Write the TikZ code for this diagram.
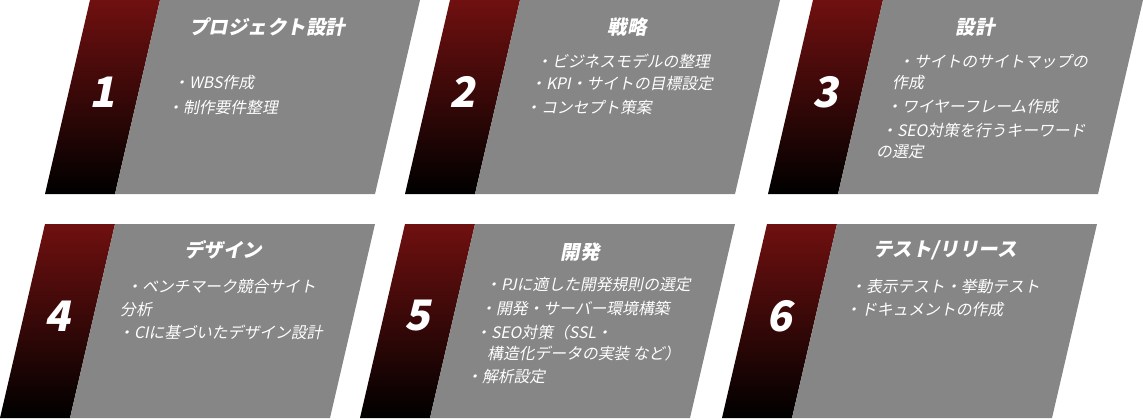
\documentclass[tikz,border=0pt]{standalone}
\usepackage{fontspec}
\newfontfamily\jp[FakeSlant=0.2]{Noto Sans CJK JP}
\definecolor{cardgray}{RGB}{134,134,134}
\definecolor{cardred}{RGB}{112,16,16}

\begin{document}
\begin{tikzpicture}[
    x=1pt, y=-1pt,
    every node/.style={text=white},
    title/.style={font=\jp\bfseries\fontsize{19.5}{19.5}\selectfont},
    item/.style={anchor=west, inner sep=0pt, font=\jp\fontsize{15.8}{15.8}\selectfont},
    num/.style={font=\jp\bfseries\fontsize{42}{42}\selectfont},
    pics/card/.style={code={
        \shade[top color=cardred, bottom color=black]
            (0,0) -- (70,0) -- (25,194) -- (-45,194) -- cycle;
        \fill[cardgray] (70,0) -- (330,0) -- (285,194) -- (25,194) -- cycle;
        \node[num] (-num) at (12,92) {#1};
    }}
]

\useasboundingbox (0,0) rectangle (1143,420);

% top row
\pic (c1) at (90,0)  {card=1};
\pic (c2) at (450,0) {card=2};
\pic (c3) at (813,0) {card=3};

% bottom row
\pic (c4) at (45,224)  {card=4};
\pic (c5) at (405,224) {card=5};
\pic (c6) at (767,224) {card=6};

\node[title] (h1) at (267,27) {プロジェクト設計};
\node[item] (l1a) at (173,83)  {・WBS作成};
\node[item] (l1b) at (167,108) {・制作要件整理};

\node[title] (h2) at (627,27) {戦略};
\node[item] (l2a) at (536,61)  {・ビジネスモデルの整理};
\node[item] (l2b) at (530,84)  {・KPI・サイトの目標設定};
\node[item] (l2c) at (525,107) {・コンセプト策案};

\node[title] (h3) at (975,27) {設計};
\node[item] (l3a) at (898,62)  {・サイトのサイトマップの};
\node[item] (l3b) at (892,83)  {作成};
\node[item] (l3c) at (886,107) {・ワイヤーフレーム作成};
\node[item] (l3d) at (881,130) {・SEO対策を行うキーワード};
\node[item] (l3e) at (876,152) {の選定};

\node[title] (h4) at (223,250) {デザイン};
\node[item] (l4a) at (126,287) {・ベンチマーク競合サイト};
\node[item] (l4b) at (120,310) {分析};
\node[item] (l4c) at (118,332) {・CIに基づいたデザイン設計};

\node[title] (h5) at (580,252) {開発};
\node[item] (l5a) at (485,285) {・PJに適した開発規則の選定};
\node[item] (l5b) at (480,308) {・開発・サーバー環境構築};
\node[item] (l5c) at (475,332) {・SEO対策（SSL・};
\node[item] (l5d) at (487,353) {構造化データの実装 など）};
\node[item] (l5e) at (466,377) {・解析設定};

\node[title] (h6) at (945,250) {テスト/リリース};
\node[item] (l6a) at (850,287) {・表示テスト・挙動テスト};
\node[item] (l6b) at (845,310) {・ドキュメントの作成};

\end{tikzpicture}
\end{document}
